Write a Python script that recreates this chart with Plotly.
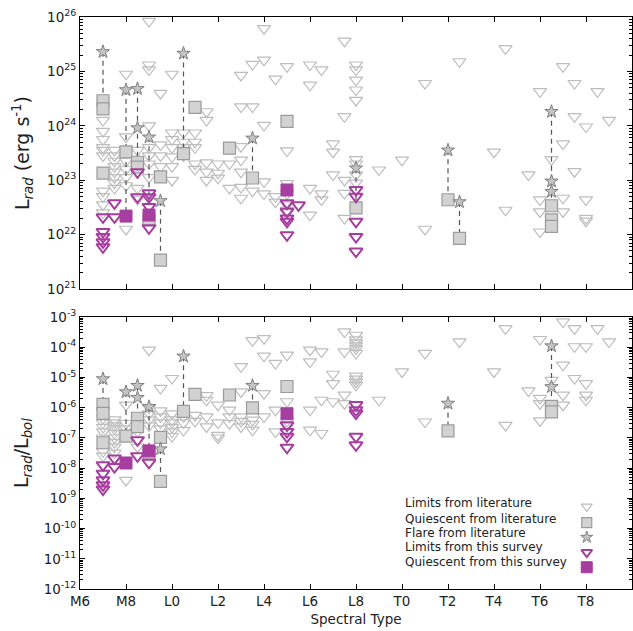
import plotly.graph_objects as go

# Spectral type code: M6=16 ... M9=19, L0=20 ... L9=29, T0=30 ... T9=39
tick_pos = [16, 18, 20, 22, 24, 26, 28, 30, 32, 34, 36, 38]
tick_lab = ["M6", "M8", "L0", "L2", "L4", "L6", "L8", "T0", "T2", "T4", "T6", "T8"]

# ---------------- Top panel: log10 L_rad (erg/s) ----------------
top_lit_limits = {
    17.0: [24.1, 23.9, 23.75, 23.6, 23.55, 23.45, 22.8, 22.7, 22.55, 22.4],
    17.5: [23.55, 23.45, 23.35, 23.25, 23.15, 23.05, 22.95, 22.85],
    18.0: [24.95, 23.8, 23.55, 23.35, 23.2, 23.05, 22.9, 22.1],
    18.5: [23.55, 23.25, 22.85, 22.65],
    19.0: [25.92, 25.12, 25.03, 24.0, 23.6, 23.45, 23.3, 23.05],
    19.5: [24.6, 23.65, 23.45, 23.25, 23.1],
    20.0: [24.95, 23.87, 23.75, 23.6, 23.43, 23.25, 23.0],
    20.5: [23.87, 23.7, 23.6, 23.45],
    21.0: [23.87, 23.7, 23.6, 23.3, 23.2],
    21.5: [24.26, 24.1, 23.32, 23.15, 23.0],
    22.0: [23.3, 23.13, 23.04],
    22.5: [23.3, 22.85],
    23.0: [24.93, 24.35, 23.62, 23.37, 23.15, 22.87, 22.67],
    23.5: [25.13, 24.35, 22.8],
    24.0: [25.79, 25.21, 24.01, 22.97, 22.75],
    24.5: [24.86, 22.7, 22.6],
    25.0: [25.09, 23.54, 22.94, 22.75, 22.55, 22.45],
    26.0: [25.12, 24.75, 22.85, 22.36],
    26.5: [25.03, 22.75, 22.64],
    27.0: [23.67, 23.52, 23.1],
    27.5: [25.56, 24.17, 23.0, 22.76, 22.3],
    28.0: [25.12, 25.03, 24.84, 24.66, 24.47, 23.38, 23.3, 23.1, 22.95],
    29.0: [23.19],
    30.0: [23.37],
    31.0: [24.78, 22.1],
    32.5: [25.18],
    34.0: [23.52],
    34.5: [25.42, 22.45],
    35.5: [23.1],
    36.0: [24.63, 22.64, 22.42, 22.05],
    36.5: [23.38],
    37.0: [25.09, 23.67, 22.67, 22.42],
    37.5: [24.78, 24.17, 23.16],
    38.0: [23.98, 22.64, 22.3, 22.25],
    38.5: [24.63],
    39.0: [24.1],
}
top_lit_quiescent = {
    17.0: [24.46, 24.31, 23.13], 18.0: [23.52], 18.5: [23.33, 23.24],
    19.0: [22.27], 19.5: [23.06, 21.53], 20.5: [23.49], 21.0: [24.34],
    22.5: [23.59], 23.5: [23.04], 25.0: [24.08], 28.0: [22.49],
    32.0: [22.64], 32.5: [21.93], 36.5: [22.53, 22.27, 22.15],
}
top_lit_flare = {
    17.0: [25.36], 18.0: [24.66], 18.5: [24.68, 23.96], 19.0: [23.79],
    19.5: [22.62], 20.5: [25.33], 23.5: [23.77], 28.0: [23.22],
    32.0: [23.55], 32.5: [22.6], 36.5: [24.26, 22.98, 22.79],
}
top_survey_limits = {
    17.0: [22.32, 22.05, 21.96, 21.86, 21.77], 17.5: [22.58, 22.32],
    18.5: [23.15, 22.69], 19.0: [22.76, 22.69, 22.51, 22.12],
    25.0: [22.58, 22.42, 22.3, 22.24, 21.99], 25.5: [22.54],
    28.0: [22.82, 22.7, 22.24, 21.96, 21.69],
}
top_survey_quiescent = {18.0: [22.34], 19.0: [22.36], 25.0: [22.82]}
# flare-to-quiescent connections: (spt, flare, quiescent)
top_links = [(17.0, 25.36, 24.46), (18.0, 24.66, 22.34), (18.5, 24.68, 23.24),
             (19.0, 23.79, 22.27), (19.5, 22.62, 21.53), (20.5, 25.33, 23.49),
             (23.5, 23.77, 23.04), (28.0, 23.22, 22.49), (32.0, 23.55, 22.64),
             (32.5, 22.6, 21.93), (36.5, 24.26, 22.53)]

# ---------------- Bottom panel: log10 L_rad/L_bol ----------------
bot_lit_limits = {
    17.0: [-6.35, -6.5, -6.65, -6.8, -7.0, -7.45, -7.6],
    17.5: [-6.4, -6.5, -6.6, -6.7, -6.85, -7.0, -7.15, -7.3, -7.5],
    18.0: [-5.91, -6.52, -6.7, -6.9, -8.4],
    18.5: [-6.6, -6.8, -7.3],
    19.0: [-4.09, -6.0, -6.2, -6.4, -6.6],
    19.5: [-5.36, -6.1, -6.3, -6.5, -6.7],
    20.0: [-5.03, -6.2, -6.4, -6.5, -6.65, -6.8, -6.95],
    20.5: [-6.3, -6.5, -6.75],
    21.0: [-6.25, -6.45],
    21.5: [-5.6, -5.75, -6.3, -6.63],
    22.0: [-5.91, -6.5, -6.91, -7.0],
    22.5: [-6.08, -6.3, -6.52],
    23.0: [-4.64, -5.47, -6.3, -6.45, -6.63],
    23.5: [-3.78, -6.41, -6.55, -6.74],
    24.0: [-3.71, -4.29, -5.53, -6.3],
    24.5: [-4.53, -6.08, -6.8],
    25.0: [-4.26, -5.8, -6.45, -6.6],
    26.0: [-4.09, -4.48, -6.08, -6.74],
    26.5: [-4.15, -5.75, -6.85],
    27.0: [-4.89, -5.2, -5.8],
    27.5: [-3.49, -4.15, -5.58, -5.86],
    28.0: [-3.6, -3.75, -3.85, -3.95, -4.05, -4.2, -4.95, -5.05, -5.15, -5.25, -5.91],
    29.0: [-5.75],
    30.0: [-4.81],
    31.0: [-4.2, -6.47],
    32.5: [-3.82],
    34.0: [-4.81],
    34.5: [-3.38, -6.58],
    35.5: [-5.44],
    36.0: [-3.74, -5.69, -5.86, -6.43],
    36.5: [-5.09],
    37.0: [-3.16, -4.59, -5.58, -5.91],
    37.5: [-3.38, -3.98, -5.03],
    38.0: [-3.98, -5.2, -5.58, -5.75],
    38.5: [-3.38],
    39.0: [-3.82],
}
bot_lit_quiescent = {
    17.0: [-5.89, -6.19, -7.16], 18.0: [-6.94], 18.5: [-6.35, -6.63],
    19.0: [-7.5], 19.5: [-6.98, -8.44], 20.5: [-6.12], 21.0: [-5.56],
    22.5: [-5.58], 23.5: [-6.01], 25.0: [-5.3], 32.0: [-6.77],
    36.5: [-5.96, -6.14],
}
bot_lit_flare = {
    17.0: [-5.05], 18.0: [-5.48], 18.5: [-5.27, -5.67], 19.0: [-5.97],
    19.5: [-7.37], 20.5: [-4.3], 23.5: [-5.27], 32.0: [-5.86],
    36.5: [-3.96, -5.31],
}
bot_survey_limits = {
    17.0: [-7.9, -8.18, -8.4, -8.56, -8.7], 17.5: [-7.68, -7.96],
    18.5: [-7.07, -7.6], 19.0: [-7.82],
    25.0: [-6.58, -6.8, -6.96, -7.32],
    28.0: [-5.91, -6.08, -6.19, -6.96, -7.24],
}
bot_survey_quiescent = {18.0: [-7.83], 19.0: [-7.43], 25.0: [-6.2]}
bot_links = [(17.0, -5.05, -5.89), (18.0, -5.48, -6.94), (18.5, -5.27, -6.63),
             (19.0, -5.97, -7.43), (19.5, -7.37, -8.44), (20.5, -4.3, -6.12),
             (23.5, -5.27, -6.01), (32.0, -5.86, -6.77), (36.5, -3.96, -5.96)]

legend_labels = ["Limits from literature", "Quiescent from literature",
                 "Flare from literature", "Limits from this survey",
                 "Quiescent from this survey"]

# ---------------- styles ----------------
GRAY_T = "#bdbdbd"
SQ_FILL = "#d2d2d2"
SQ_EDGE = "#9b9b9b"
ST_FILL = "#c4c4c4"
ST_EDGE = "#7f7f7f"
PURPLE = "#a63ea0"
FONT = "DejaVu Sans"

styles = [
    dict(symbol="triangle-down-open", size=11.5, color=GRAY_T, line=dict(width=1.2, color=GRAY_T)),
    dict(symbol="square", size=12, color=SQ_FILL, line=dict(width=1.2, color=SQ_EDGE)),
    dict(symbol="star", size=10, color=ST_FILL, line=dict(width=1, color=ST_EDGE)),
    dict(symbol="triangle-down-open", size=11.5, color=PURPLE, line=dict(width=2, color=PURPLE)),
    dict(symbol="square", size=12, color=PURPLE, line=dict(width=1, color=PURPLE)),
]


def flat(d):
    xs, ys = [], []
    for k, vals in d.items():
        for v in vals:
            xs.append(k)
            ys.append(10 ** v)
    return xs, ys


def links_xy(links):
    xs, ys = [], []
    for s, hi, lo in links:
        xs += [s, s, None]
        ys += [10 ** hi, 10 ** lo, None]
    return xs, ys


fig = go.Figure()

panels = [
    ("x", "y", top_lit_limits, top_lit_quiescent, top_lit_flare,
     top_survey_limits, top_survey_quiescent, top_links),
    ("x2", "y2", bot_lit_limits, bot_lit_quiescent, bot_lit_flare,
     bot_survey_limits, bot_survey_quiescent, bot_links),
]
for xa, ya, lim, qui, fla, slim, squi, lk in panels:
    x, y = flat(lim)
    fig.add_trace(go.Scatter(x=x, y=y, mode="markers", marker=styles[0], xaxis=xa, yaxis=ya))
    x, y = links_xy(lk)
    fig.add_trace(go.Scatter(x=x, y=y, mode="lines", xaxis=xa, yaxis=ya,
                             line=dict(color="#555555", width=1.2, dash="5px,4px")))
    x, y = flat(qui)
    fig.add_trace(go.Scatter(x=x, y=y, mode="markers", marker=styles[1], xaxis=xa, yaxis=ya))
    x, y = flat(fla)
    fig.add_trace(go.Scatter(x=x, y=y, mode="markers", marker=styles[2], xaxis=xa, yaxis=ya))
    x, y = flat(slim)
    fig.add_trace(go.Scatter(x=x, y=y, mode="markers", marker=styles[3], xaxis=xa, yaxis=ya))
    x, y = flat(squi)
    fig.add_trace(go.Scatter(x=x, y=y, mode="markers", marker=styles[4], xaxis=xa, yaxis=ya))

# Legend (markers on the right, text on the left), drawn on a hidden overlay axis
leg_y_mark = [0.303, 0.244, 0.190, 0.135, 0.080]
leg_y_text = [0.1498, 0.1224, 0.0974, 0.0729, 0.0467]
leg_sizes = [9.5, 10, 9, 9.5, 11]
for i, lab in enumerate(legend_labels):
    m = dict(styles[i])
    m["size"] = leg_sizes[i]
    fig.add_trace(go.Scatter(x=[0.918], y=[leg_y_mark[i]], mode="markers", marker=m,
                             xaxis="x3", yaxis="y3"))
    fig.add_annotation(text=lab, x=0.5846, y=leg_y_text[i], xref="paper", yref="paper",
                       xanchor="left", yanchor="middle", showarrow=False,
                       font=dict(family=FONT, size=12, color="#222222"))


def minor_vals(lo, hi):
    return [m * 10.0 ** e for e in range(lo, hi) for m in range(2, 10)]


common_x = dict(range=[16, 40], tickmode="array", tickvals=tick_pos, ticktext=tick_lab,
                ticks="inside", ticklen=5, tickcolor="black", showline=True,
                linecolor="black", linewidth=1, mirror="allticks", showgrid=False,
                zeroline=False, tickfont=dict(family=FONT, size=13.5, color="#222222"))
common_y = dict(type="log", ticks="inside", ticklen=5, tickcolor="black", showline=True,
                linecolor="black", linewidth=1, mirror="allticks", showgrid=False,
                zeroline=False, tickfont=dict(family=FONT, size=13.5, color="#222222"))

top_exp = list(range(21, 27))
bot_exp = list(range(-12, -2))

fig.update_layout(
    width=633, height=631,
    margin=dict(l=80, r=1, t=17, b=42),
    paper_bgcolor="white", plot_bgcolor="white",
    showlegend=False,
    font=dict(family=FONT, color="#222222"),
    xaxis=dict(common_x, anchor="y", domain=[0, 1], showticklabels=False),
    yaxis=dict(common_y, anchor="x", domain=[0.5245, 1], range=[21, 26],
               tickmode="array", tickvals=[10.0 ** e for e in top_exp],
               ticktext=["10<sup>%d</sup>" % e for e in top_exp],
               minor=dict(ticks="inside", ticklen=3, tickcolor="black",
                          tickmode="array", tickvals=minor_vals(21, 26), showgrid=False),
               title=dict(text="L<sub><i>rad</i></sub> (erg s<sup>-1</sup>)",
                          font=dict(family=FONT, size=19), standoff=12)),
    xaxis2=dict(common_x, anchor="y2", domain=[0, 1],
                title=dict(text="Spectral Type", font=dict(family=FONT, size=13.5), standoff=6)),
    yaxis2=dict(common_y, anchor="x2", domain=[0, 0.4755], range=[-12, -3],
                tickmode="array", tickvals=[10.0 ** e for e in bot_exp],
                ticktext=["10<sup>%d</sup>" % e for e in bot_exp],
                minor=dict(ticks="inside", ticklen=3, tickcolor="black",
                           tickmode="array", tickvals=minor_vals(-12, -3), showgrid=False),
                title=dict(text="L<sub><i>rad</i></sub>/L<sub><i>bol</i></sub>",
                           font=dict(family=FONT, size=19), standoff=10)),
    xaxis3=dict(overlaying="x2", range=[0, 1], visible=False, anchor="y3"),
    yaxis3=dict(overlaying="y2", range=[0, 1], visible=False, anchor="x3"),
)

fig.write_html("out.html")
